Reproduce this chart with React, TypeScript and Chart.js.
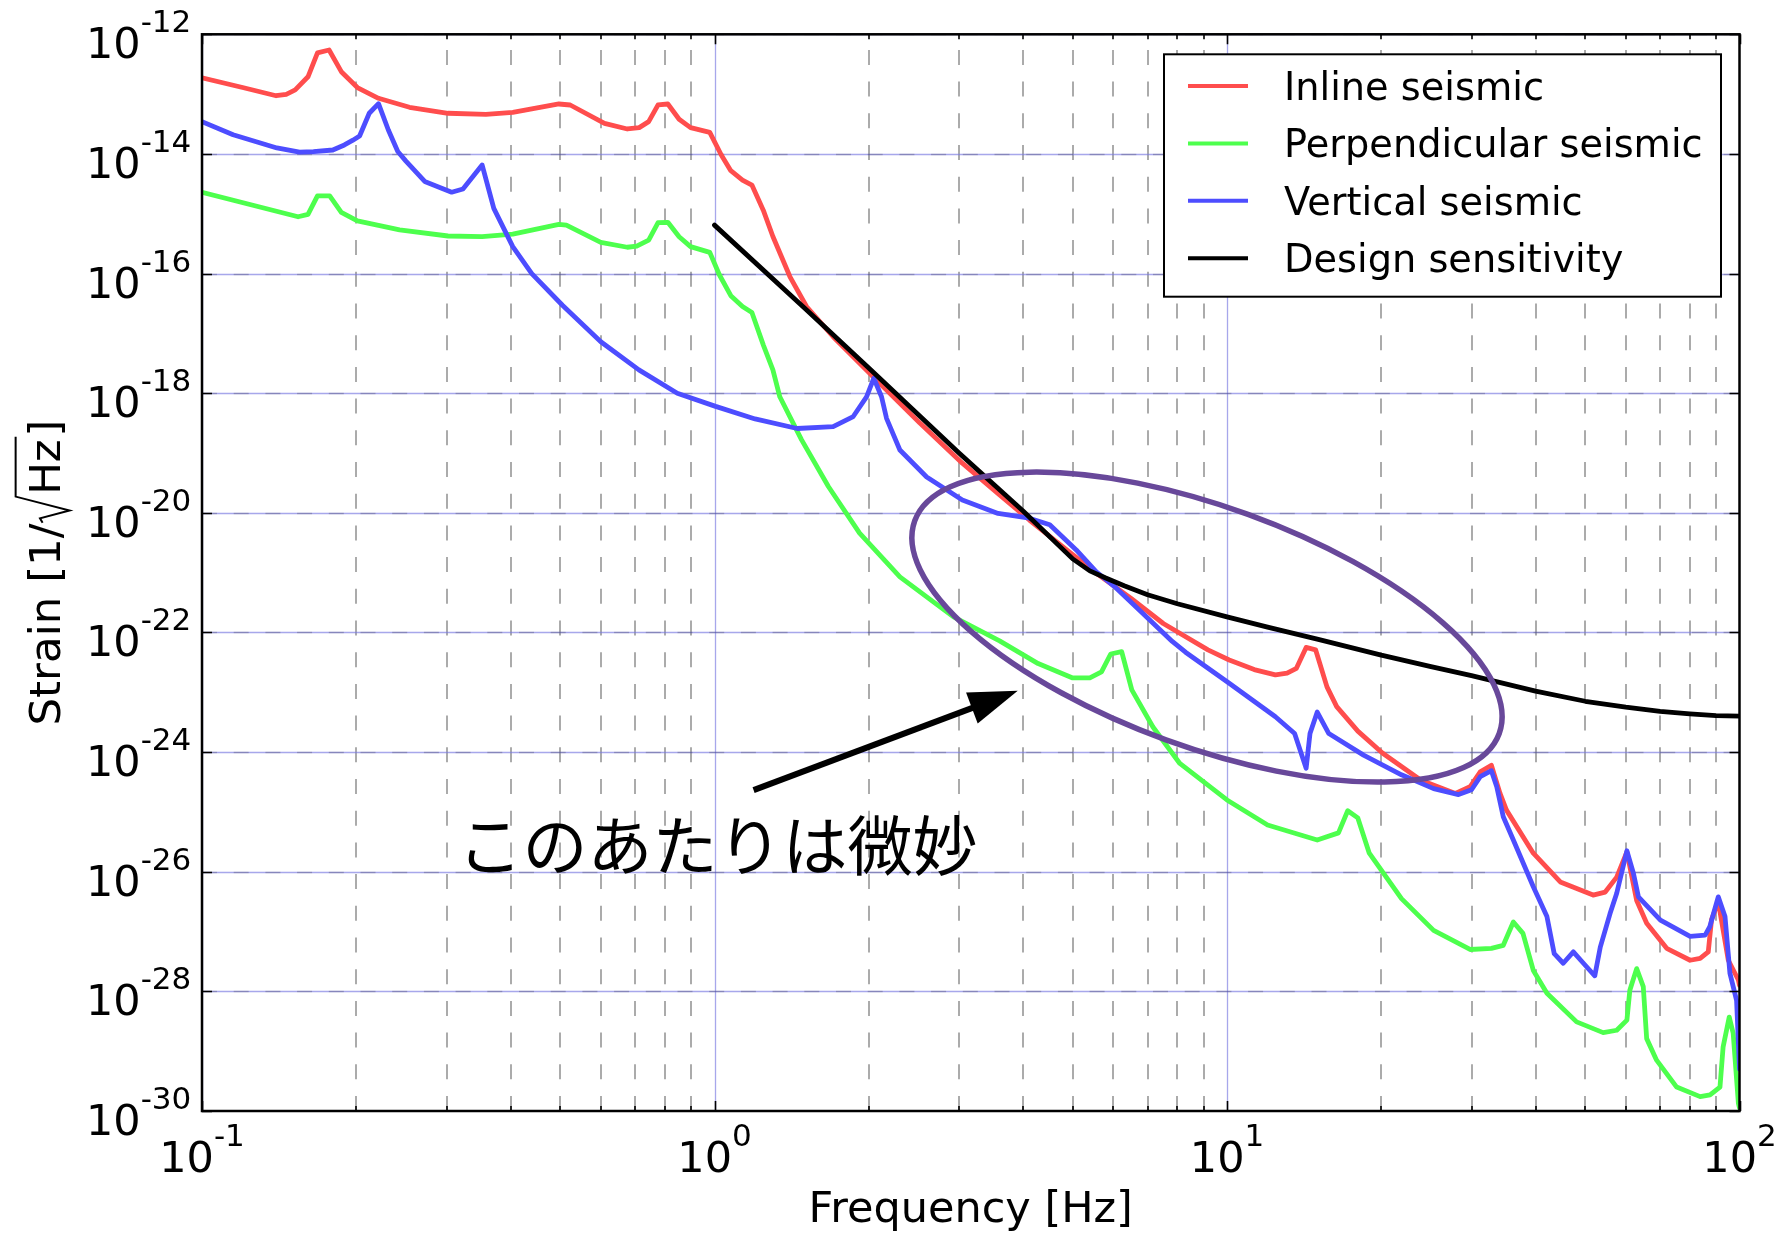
import { useEffect, useRef } from 'react';
import { Chart, registerables } from 'chart.js';

Chart.register(...registerables);

// ---------------- data (frequency in Hz, strain as log10 value) ----------------
const inlineFreq = [0.1, 0.12, 0.1395, 0.146, 0.152, 0.161, 0.168, 0.177, 0.187, 0.201, 0.221, 0.254, 0.302, 0.358, 0.404, 0.497, 0.523, 0.61, 0.676, 0.713, 0.744, 0.776, 0.811, 0.853, 0.898, 0.979, 1.031, 1.076, 1.134, 1.183, 1.245, 1.3, 1.403, 1.512, 1.704, 2.04, 2.516, 3.045, 3.6, 4.115, 5.0, 5.56, 6.5, 7.51, 9.18, 10.1, 11.3, 12.43, 13.1, 13.66, 14.27, 14.89, 15.67, 16.37, 18.0, 20.13, 23.9, 27.9, 29.8, 31.2, 32.8, 34.1, 35.1, 39.6, 44.7, 51.8, 54.7, 57.6, 60.3, 63.0, 65.9, 72.1, 80.1, 83.8, 86.9, 88.2, 90.9, 95.1, 99.5, 100];
const inlineLogStrain = [-12.726, -12.89, -13.027, -13.003, -12.93, -12.71, -12.31, -12.262, -12.625, -12.89, -13.07, -13.22, -13.32, -13.338, -13.304, -13.165, -13.182, -13.488, -13.583, -13.56, -13.46, -13.18, -13.165, -13.42, -13.56, -13.64, -14.018, -14.28, -14.436, -14.52, -14.94, -15.38, -16.05, -16.55, -17.056, -17.725, -18.5, -19.17, -19.7, -20.12, -20.7, -21.01, -21.43, -21.85, -22.29, -22.46, -22.62, -22.71, -22.68, -22.6, -22.25, -22.29, -22.91, -23.24, -23.65, -24.02, -24.47, -24.69, -24.58, -24.33, -24.22, -24.69, -24.97, -25.69, -26.17, -26.39, -26.34, -26.09, -25.67, -26.48, -26.86, -27.28, -27.48, -27.45, -27.34, -26.8, -26.5, -27.48, -27.81, -27.9];

const perpFreq = [0.1, 0.154, 0.161, 0.168, 0.1775, 0.187, 0.201, 0.243, 0.302, 0.352, 0.404, 0.497, 0.514, 0.6, 0.676, 0.705, 0.744, 0.776, 0.811, 0.853, 0.898, 0.979, 1.022, 1.076, 1.134, 1.183, 1.246, 1.3, 1.341, 1.435, 1.479, 1.668, 1.919, 2.3, 2.926, 3.6, 4.28, 5.0, 5.4, 5.69, 5.93, 6.23, 6.52, 7.17, 8.09, 10.0, 12.0, 15.0, 16.5, 17.2, 18.0, 18.95, 21.9, 25.3, 29.8, 32.8, 34.6, 36.2, 37.8, 39.6, 42.1, 48.1, 54.2, 57.6, 60.3, 61.1, 63.0, 64.9, 65.9, 68.9, 75.4, 83.8, 87.6, 91.6, 92.9, 95.5, 97.2, 99.5, 100];
const perpLogStrain = [-14.642, -15.05, -15.01, -14.7, -14.7, -14.976, -15.12, -15.27, -15.372, -15.384, -15.34, -15.177, -15.19, -15.48, -15.56, -15.54, -15.44, -15.15, -15.143, -15.384, -15.55, -15.645, -16.02, -16.37, -16.55, -16.65, -17.2, -17.61, -18.06, -18.56, -18.78, -19.56, -20.34, -21.07, -21.74, -22.14, -22.52, -22.76, -22.76, -22.66, -22.36, -22.32, -22.96, -23.58, -24.19, -24.8, -25.22, -25.47, -25.35, -24.98, -25.1, -25.69, -26.45, -26.98, -27.3, -27.28, -27.23, -26.84, -27.03, -27.65, -28.03, -28.51, -28.69, -28.65, -28.48, -27.98, -27.62, -27.92, -28.79, -29.15, -29.6, -29.76, -29.73, -29.6, -28.93, -28.43, -28.7, -29.87, -29.95];

const vertFreq = [0.1, 0.115, 0.1276, 0.14, 0.155, 0.165, 0.18, 0.1896, 0.197, 0.203, 0.212, 0.221, 0.231, 0.241, 0.25, 0.272, 0.307, 0.323, 0.352, 0.371, 0.404, 0.44, 0.505, 0.6, 0.712, 0.846, 1.005, 1.2, 1.45, 1.704, 1.865, 1.98, 2.046, 2.118, 2.166, 2.3, 2.594, 3.045, 3.575, 4.115, 4.51, 5.08, 5.56, 6.04, 6.79, 7.82, 8.3, 10.1, 12.43, 13.55, 14.27, 14.52, 15.0, 15.8, 18.47, 21.9, 25.3, 28.3, 30.0, 31.2, 32.8, 33.6, 34.6, 36.2, 39.6, 42.1, 43.5, 45.3, 47.4, 49.6, 52.2, 53.5, 55.9, 57.6, 60.3, 62.1, 63.5, 70.1, 80.1, 85.7, 87.5, 90.9, 93.7, 95.8, 98.7, 100];
const vertLogStrain = [-13.46, -13.68, -13.796, -13.9, -13.97, -13.963, -13.934, -13.85, -13.77, -13.7, -13.32, -13.16, -13.6, -13.96, -14.12, -14.46, -14.64, -14.586, -14.185, -14.91, -15.55, -16.0, -16.53, -17.14, -17.61, -18.0, -18.22, -18.43, -18.59, -18.56, -18.39, -18.06, -17.75, -18.06, -18.42, -18.95, -19.4, -19.786, -20.01, -20.09, -20.2, -20.62, -20.985, -21.236, -21.65, -22.15, -22.33, -22.85, -23.41, -23.69, -24.27, -23.69, -23.33, -23.69, -24.05, -24.38, -24.61, -24.71, -24.63, -24.41, -24.31, -24.58, -25.08, -25.47, -26.25, -26.75, -27.37, -27.53, -27.34, -27.53, -27.74, -27.26, -26.7, -26.36, -25.65, -26.03, -26.42, -26.81, -27.08, -27.06, -26.92, -26.42, -26.75, -27.7, -28.15, -29.3];

const designFreq = [1, 1.5, 2, 3, 4, 5, 5.4, 5.8, 6.3, 7, 8, 10, 12, 15, 20, 25, 30, 40, 50, 60, 70, 80, 90, 100];
const designLogStrain = [-15.19, -16.58, -17.58, -19.0, -19.97, -20.77, -20.97, -21.09, -21.22, -21.37, -21.52, -21.74, -21.91, -22.11, -22.38, -22.57, -22.72, -22.98, -23.15, -23.25, -23.32, -23.36, -23.39, -23.4];

const seriesLabels = ['Inline seismic', 'Perpendicular seismic', 'Vertical seismic', 'Design sensitivity'];
const seriesColors = ['rgb(255,77,77)', 'rgb(77,255,77)', 'rgb(77,77,255)', '#000000'];

const xTickExponents = [-1, 0, 1, 2];
const yTickExponents = [-12, -14, -16, -18, -20, -22, -24, -26, -28, -30];
const minorMultipliers = [2, 3, 4, 5, 6, 7, 8, 9];

const xTitle = 'Frequency [Hz]';
const annotationText = 'このあたりは微妙';

// annotation anchors in data coordinates (Hz, log10 strain)
const ellipseCenter = { f: 9.14, logS: -21.91 };
const arrowTail = { f: 1.192, logS: -24.635 };
const arrowTip = { f: 3.906, logS: -22.975 };
const textAnchor = { f: 0.315, logS: -25.55 };

const FONT = '"DejaVu Sans", "Liberation Sans", sans-serif';
const GRID_BLUE = 'rgba(120,120,225,0.65)';
const GRID_GRAY = 'rgba(0,0,0,0.33)';
const GRID_GRAY_H = 'rgba(0,0,0,0.2)';
const DASH = [15, 16.7];

function toPoints(freq: number[], logs: number[]) {
  return freq.map((f, i) => ({ x: f, y: Math.pow(10, logs[i]) }));
}

function drawPow(ctx: CanvasRenderingContext2D, exp: number, x: number, baseline: number, align: string) {
  const baseFont = `43px ${FONT}`;
  const supFont = `31px ${FONT}`;
  ctx.font = baseFont;
  const wb = ctx.measureText('10').width;
  ctx.font = supFont;
  const es = String(exp);
  const we = ctx.measureText(es).width;
  const total = wb + we;
  const x0 = align === 'center' ? x - total / 2 : x - total;
  ctx.textAlign = 'left';
  ctx.textBaseline = 'alphabetic';
  ctx.fillStyle = '#000';
  ctx.font = baseFont;
  ctx.fillText('10', x0, baseline);
  ctx.font = supFont;
  ctx.fillText(es, x0 + wb, baseline - 26);
}

const decorations = {
  id: 'decorations',
  beforeDatasetsDraw(chart: any) {
    const { ctx, chartArea: a, scales } = chart;
    const xs = scales.x;
    const ys = scales.y;
    ctx.save();
    ctx.beginPath();
    ctx.rect(a.left, a.top, a.right - a.left, a.bottom - a.top);
    ctx.clip();
    // minor vertical dashed grid
    ctx.lineWidth = 2;
    ctx.strokeStyle = GRID_GRAY;
    ctx.setLineDash(DASH);
    for (const d of xTickExponents.slice(0, -1)) {
      for (const m of minorMultipliers) {
        const x = Math.round(xs.getPixelForValue(m * Math.pow(10, d)));
        ctx.beginPath();
        ctx.moveTo(x, a.bottom);
        ctx.lineTo(x, a.top);
        ctx.stroke();
      }
    }
    // major vertical (decades) light blue
    ctx.setLineDash([]);
    ctx.strokeStyle = GRID_BLUE;
    ctx.lineWidth = 1.3;
    for (const d of xTickExponents) {
      const x = Math.round(xs.getPixelForValue(Math.pow(10, d))) + 0.5;
      ctx.beginPath();
      ctx.moveTo(x, a.bottom);
      ctx.lineTo(x, a.top);
      ctx.stroke();
    }
    // horizontal grid: blue solid + light gray dashes
    for (const e of yTickExponents) {
      const y = Math.round(ys.getPixelForValue(Math.pow(10, e))) + 0.5;
      ctx.setLineDash([]);
      ctx.strokeStyle = GRID_BLUE;
      ctx.lineWidth = 1.3;
      ctx.beginPath();
      ctx.moveTo(a.left, y);
      ctx.lineTo(a.right, y);
      ctx.stroke();
      ctx.setLineDash(DASH);
      ctx.strokeStyle = GRID_GRAY_H;
      ctx.lineWidth = 1.6;
      ctx.beginPath();
      ctx.moveTo(a.left, y);
      ctx.lineTo(a.right, y);
      ctx.stroke();
    }
    ctx.restore();
  },
  afterDatasetsDraw(chart: any) {
    const { ctx, chartArea: a, scales } = chart;
    const xs = scales.x;
    const ys = scales.y;
    const px = (f: number) => xs.getPixelForValue(f);
    const py = (l: number) => ys.getPixelForValue(Math.pow(10, l));

    ctx.save();
    // ellipse annotation
    ctx.beginPath();
    ctx.ellipse(px(ellipseCenter.f), py(ellipseCenter.logS), 311, 120, (20 * Math.PI) / 180, 0, Math.PI * 2);
    ctx.strokeStyle = '#68489a';
    ctx.lineWidth = 5.5;
    ctx.stroke();

    // arrow
    const tx = px(arrowTail.f), ty = py(arrowTail.logS);
    const hx = px(arrowTip.f), hy = py(arrowTip.logS);
    const ang = Math.atan2(hy - ty, hx - tx);
    const headLen = 49, headHalf = 16.5;
    const bx = hx - headLen * Math.cos(ang), by = hy - headLen * Math.sin(ang);
    ctx.strokeStyle = '#000';
    ctx.fillStyle = '#000';
    ctx.lineWidth = 6;
    ctx.lineCap = 'butt';
    ctx.beginPath();
    ctx.moveTo(tx, ty);
    ctx.lineTo(bx + 2 * Math.cos(ang), by + 2 * Math.sin(ang));
    ctx.stroke();
    ctx.beginPath();
    ctx.moveTo(hx, hy);
    ctx.lineTo(bx + headHalf * Math.sin(ang), by - headHalf * Math.cos(ang));
    ctx.lineTo(bx - headHalf * Math.sin(ang), by + headHalf * Math.cos(ang));
    ctx.closePath();
    ctx.fill();

    // japanese annotation text
    ctx.font = '65px "Noto Sans CJK JP", sans-serif';
    ctx.textAlign = 'left';
    ctx.textBaseline = 'middle';
    ctx.fillText(annotationText, px(textAnchor.f), py(textAnchor.logS));

    // frame
    ctx.lineWidth = 2.5;
    ctx.strokeStyle = '#000';
    ctx.strokeRect(a.left, a.top, a.right - a.left, a.bottom - a.top);

    // ticks (inward)
    ctx.lineWidth = 1.6;
    const vtick = (x: number, len: number) => {
      ctx.beginPath();
      ctx.moveTo(x, a.bottom);
      ctx.lineTo(x, a.bottom - len);
      ctx.moveTo(x, a.top);
      ctx.lineTo(x, a.top + len);
      ctx.stroke();
    };
    for (const d of xTickExponents) {
      vtick(Math.round(px(Math.pow(10, d))) + 0.5, 10);
      if (d < 2) for (const m of minorMultipliers) vtick(Math.round(px(m * Math.pow(10, d))), 5);
    }
    for (const e of yTickExponents) {
      const y = Math.round(py(e)) + 0.5;
      ctx.beginPath();
      ctx.moveTo(a.left, y);
      ctx.lineTo(a.left + 10, y);
      ctx.moveTo(a.right, y);
      ctx.lineTo(a.right - 10, y);
      ctx.stroke();
    }

    // tick labels
    for (const e of yTickExponents) drawPow(ctx, e, a.left - 10.7, py(e) + 24, 'right');
    for (const d of xTickExponents) drawPow(ctx, d, px(Math.pow(10, d)), a.bottom + 60.7, 'center');

    // x title
    ctx.font = `43px ${FONT}`;
    ctx.textAlign = 'center';
    ctx.textBaseline = 'alphabetic';
    ctx.fillStyle = '#000';
    ctx.fillText(xTitle, (a.left + a.right) / 2, 1222);

    // y title with radical
    const em = 43.5;
    ctx.save();
    ctx.translate(60, (a.top + a.bottom) / 2);
    ctx.rotate(-Math.PI / 2);
    ctx.font = `${em}px ${FONT}`;
    ctx.textAlign = 'left';
    const s1 = 'Strain [1/';
    const w1 = ctx.measureText(s1).width;
    const rw = 0.66 * em;
    const w2 = ctx.measureText('Hz').width;
    const w3 = ctx.measureText(']').width;
    const total = w1 + rw + w2 + 0.06 * em + w3;
    let x = -total / 2;
    ctx.fillText(s1, x, 0);
    x += w1;
    ctx.lineWidth = 2;
    ctx.lineJoin = 'miter';
    ctx.beginPath();
    ctx.moveTo(x + 0.02 * em, -0.4 * em);
    ctx.lineTo(x + 0.12 * em, -0.46 * em);
    ctx.lineTo(x + 0.3 * em, 0.22 * em);
    ctx.lineTo(x + 0.62 * em, -1.02 * em);
    ctx.lineTo(x + rw + w2 + 0.06 * em, -1.02 * em);
    ctx.stroke();
    x += rw;
    ctx.fillText('Hz', x, 0);
    x += w2 + 0.06 * em;
    ctx.fillText(']', x, 0);
    ctx.restore();

    // legend
    const lx0 = 1164, ly0 = 54.3, lx1 = 1721, ly1 = 296.7;
    ctx.fillStyle = '#fff';
    ctx.fillRect(lx0, ly0, lx1 - lx0, ly1 - ly0);
    ctx.lineWidth = 2;
    ctx.strokeStyle = '#000';
    ctx.strokeRect(lx0, ly0, lx1 - lx0, ly1 - ly0);
    ctx.font = `38.3px ${FONT}`;
    ctx.textAlign = 'left';
    ctx.textBaseline = 'alphabetic';
    seriesLabels.forEach((lab, i) => {
      const base = 100 + 57.4 * i;
      ctx.strokeStyle = seriesColors[i];
      ctx.lineWidth = 4;
      ctx.beginPath();
      ctx.moveTo(1188, base - 14);
      ctx.lineTo(1248, base - 14);
      ctx.stroke();
      ctx.fillStyle = '#000';
      ctx.fillText(lab, 1284, base);
    });
    ctx.restore();
  },
};

export default function App() {
  const ref = useRef<HTMLCanvasElement | null>(null);
  useEffect(() => {
    document.body.style.margin = '0';
    const canvas = ref.current;
    if (!canvas) return;
    const mk = (i: number, freq: number[], logs: number[], order: number) => ({
      label: seriesLabels[i],
      data: toPoints(freq, logs),
      borderColor: seriesColors[i],
      backgroundColor: seriesColors[i],
      borderWidth: 4.8,
      pointRadius: 0,
      fill: false,
      tension: 0,
      order,
    });
    const chart = new Chart(canvas, {
      type: 'line',
      data: {
        datasets: [
          mk(0, inlineFreq, inlineLogStrain, 4),
          mk(1, perpFreq, perpLogStrain, 3),
          mk(2, vertFreq, vertLogStrain, 2),
          mk(3, designFreq, designLogStrain, 1),
        ],
      },
      options: {
        animation: false,
        responsive: false,
        events: [],
        layout: { padding: { left: 202, right: 52.5, top: 34.3, bottom: 122 } },
        plugins: { legend: { display: false }, tooltip: { enabled: false }, title: { display: false } },
        elements: { line: { borderJoinStyle: 'round', borderCapStyle: 'round' } },
        scales: {
          x: { type: 'logarithmic', min: 0.1, max: 100, display: false },
          y: { type: 'logarithmic', min: 1e-30, max: 1e-12, display: false },
        },
      },
      plugins: [decorations],
    } as any);
    return () => chart.destroy();
  }, []);
  return (
    <div style={{ position: 'absolute', left: 0, top: 0, width: 1792, height: 1233, background: '#fff' }}>
      <canvas ref={ref} width={1792} height={1233} style={{ display: 'block', width: 1792, height: 1233 }} />
    </div>
  );
}
